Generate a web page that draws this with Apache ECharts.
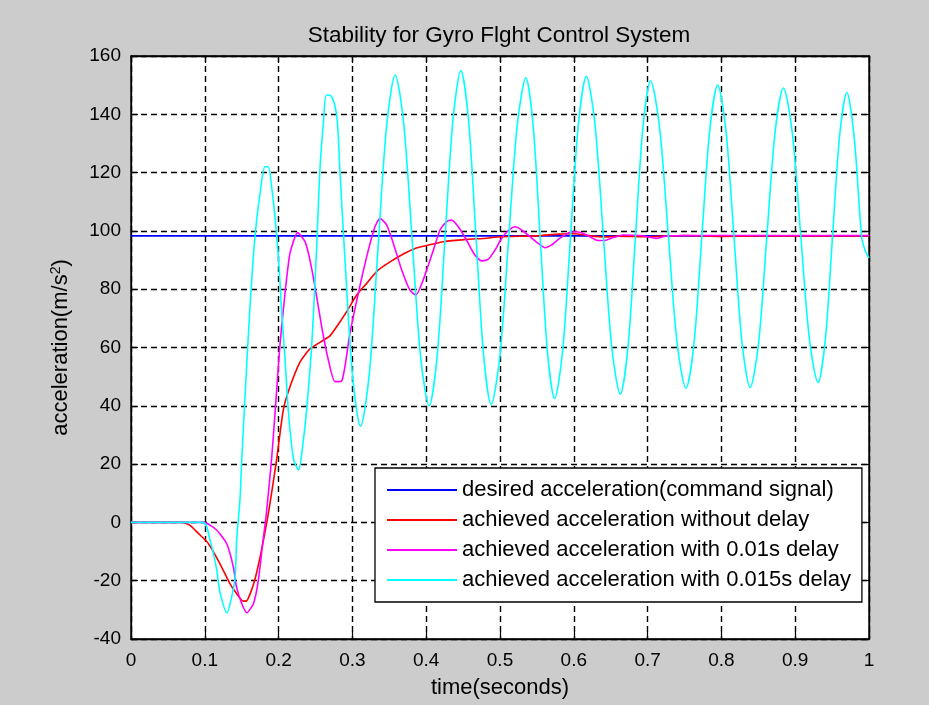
<!DOCTYPE html>
<html>
<head>
<meta charset="utf-8">
<title>Stability for Gyro Flght Control System</title>
<script src="https://cdn.jsdelivr.net/npm/echarts@6/dist/echarts.min.js"></script>
<style>
  html, body { margin: 0; padding: 0; background: #ffffff; }
  #chart { width: 929px; height: 705px; }
</style>
</head>
<body>
<div id="chart"></div>
<script>
// Time axis ticks (seconds) and acceleration ticks (m/s^2)
const xTicks = [0, 0.1, 0.2, 0.3, 0.4, 0.5, 0.6, 0.7, 0.8, 0.9, 1];
const yTicks = [-40, -20, 0, 20, 40, 60, 80, 100, 120, 140, 160];

const seriesNames = [
  'desired acceleration(command signal)',
  'achieved acceleration without delay',
  'achieved acceleration with 0.01s delay',
  'achieved acceleration with 0.015s delay'
];

// Command signal (constant)
const desired = [[0, 98.3], [1, 98.3]];

// Response without delay
const noDelay = [
  [0, 0], [0.069, 0], [0.08, -1], [0.091, -3.7], [0.105, -7.3], [0.1206, -14.2],
  [0.134, -21], [0.143, -24.4], [0.152, -27], [0.156, -27], [0.168, -19.5],
  [0.184, 0], [0.197, 21], [0.2064, 38.6], [0.2154, 46.5], [0.229, 55], [0.2425, 59.5],
  [0.2606, 62.5], [0.2696, 64], [0.281, 68], [0.2922, 72.3], [0.3058, 78],
  [0.3193, 82], [0.3351, 86.6], [0.351, 89.4], [0.369, 92.1], [0.3848, 94],
  [0.4007, 95], [0.4232, 96.3], [0.4548, 97.1], [0.482, 97.5], [0.5, 98],
  [0.55, 98.3], [0.58, 98.9], [0.60, 99.0], [0.62, 98.4], [0.64, 97.9],
  [0.66, 98.2], [0.70, 98.0], [0.75, 98.4], [0.8, 98.1], [0.85, 98.3], [1.0, 98.3]
];

// Response with 0.01 s delay
const delay010 = [
  [0, 0], [0.0985, 0], [0.116, -2.6], [0.130, -7.5], [0.1387, -15.3], [0.143, -22.2],
  [0.150, -27.8], [0.157, -31], [0.166, -27.8], [0.1725, -20], [0.179, -6],
  [0.183, 2], [0.1906, 22], [0.197, 44], [0.202, 61.4], [0.2087, 78.6],
  [0.2154, 92.3], [0.2258, 99.4], [0.2358, 96.3], [0.2425, 90], [0.2493, 80.9],
  [0.2584, 67.1], [0.2674, 55.7], [0.2764, 48.3], [0.2855, 48.5], [0.2967, 64.9],
  [0.31, 80.9], [0.3216, 93.4], [0.3306, 101.4], [0.3374, 104.3], [0.3465, 102],
  [0.3555, 95.7], [0.3668, 86.6], [0.378, 79.7], [0.386, 78], [0.396, 83.2],
  [0.4097, 93.4], [0.4187, 100.3], [0.4278, 103.2], [0.4345, 103.7], [0.4435, 101.4],
  [0.4548, 96.8], [0.466, 91.7], [0.4752, 89.7], [0.4842, 90.3], [0.4932, 93.4],
  [0.5023, 97.5], [0.5113, 100.1], [0.5203, 101.4], [0.5294, 100.3], [0.5407, 98],
  [0.5519, 95.7], [0.561, 94.2], [0.570, 95.2], [0.5813, 97.5], [0.5949, 99.5],
  [0.604, 99.7], [0.6175, 98.6], [0.631, 96.8], [0.642, 96.7], [0.6535, 97.7],
  [0.667, 98.6], [0.69, 98.4], [0.70, 98.0], [0.712, 97.4], [0.722, 98.1],
  [0.75, 98.4], [1.0, 98.4]
];

// Response with 0.015 s delay
const delay015 = [
  [0, 0], [0.097, 0], [0.107, -6], [0.116, -16], [0.1206, -24], [0.130, -31],
  [0.136, -26], [0.141, -19], [0.1432, -6], [0.1477, 8], [0.150, 21], [0.1545, 43],
  [0.161, 73], [0.168, 98], [0.175, 113], [0.1816, 122], [0.186, 122], [0.1906, 115],
  [0.195, 105], [0.200, 90], [0.204, 73], [0.2087, 56], [0.213, 39], [0.220, 22],
  [0.227, 18], [0.232, 25], [0.238, 38.6], [0.245, 61.4], [0.2516, 94.6],
  [0.256, 121], [0.261, 138], [0.265, 146.6], [0.272, 146], [0.279, 139],
  [0.283, 121], [0.2895, 92], [0.3003, 50], [0.311, 33],
  [0.3228, 50.7], [0.3345, 93.3], [0.3463, 135.9], [0.358, 153.5],
  [0.3695, 136.9], [0.381, 96.8], [0.3925, 56.6], [0.404, 40],
  [0.4148, 56.9], [0.4255, 97.5], [0.4363, 138.2], [0.447, 155],
  [0.4573, 138.2], [0.4675, 97.8], [0.4778, 57.3], [0.488, 40.5],
  [0.4998, 56.9], [0.5115, 96.5], [0.5233, 136.1], [0.535, 152.5],
  [0.5448, 136.4], [0.5545, 97.5], [0.5643, 58.6], [0.574, 42.5],
  [0.5848, 58.7], [0.5955, 97.8], [0.6063, 136.8], [0.617, 153],
  [0.6285, 137], [0.64, 98.5], [0.6515, 60], [0.663, 44],
  [0.6733, 59.8], [0.6835, 97.8], [0.6938, 135.8], [0.704, 151.5],
  [0.716, 136], [0.728, 98.8], [0.74, 61.5], [0.752, 46],
  [0.7628, 61.2], [0.7735, 98], [0.7843, 134.8], [0.795, 150],
  [0.806, 134.8], [0.817, 98.2], [0.828, 61.5], [0.839, 46.3],
  [0.8503, 61.3], [0.8615, 97.7], [0.8728, 134], [0.884, 149],
  [0.8958, 134.2], [0.9075, 98.5], [0.9193, 62.8], [0.931, 48],
  [0.9408, 62.6], [0.9505, 97.8], [0.9603, 132.9], [0.970, 147.5],
  [0.98, 132], [0.990, 98], [0.9946, 93.4], [1.0, 90.7]
];

const lineColors = ['#0000ff', '#ff0000', '#ff00ff', '#00ffff'];
const FONT = '"Liberation Sans", Arial, Helvetica, sans-serif';

const chart = echarts.init(document.getElementById('chart'), null, { renderer: 'canvas' });

const tickStyle = { inside: true, length: 7, lineStyle: { color: '#000', width: 1.2 } };

function xAxisBase(pos, showLabels) {
  return {
    type: 'value',
    position: pos,
    min: xTicks[0],
    max: xTicks[xTicks.length - 1],
    interval: 0.1,
    axisLine: { show: true, onZero: false, lineStyle: { color: '#000', width: 1.3 } },
    axisTick: tickStyle,
    axisLabel: {
      show: showLabels,
      margin: 12,
      color: '#000',
      fontFamily: FONT,
      fontSize: 19,
      formatter: v => String(Math.round(v * 10) / 10)
    },
    splitLine: {
      show: showLabels,
      lineStyle: { color: '#000', width: 1.4, type: [6, 4] }
    }
  };
}

function yAxisBase(pos, showLabels) {
  return {
    type: 'value',
    position: pos,
    min: yTicks[0],
    max: yTicks[yTicks.length - 1],
    interval: 20,
    axisLine: { show: true, onZero: false, lineStyle: { color: '#000', width: 1.3 } },
    axisTick: tickStyle,
    axisLabel: {
      show: showLabels,
      margin: 10,
      color: '#000',
      fontFamily: FONT,
      fontSize: 19
    },
    splitLine: {
      show: showLabels,
      lineStyle: { color: '#000', width: 1.4, type: [6, 4] }
    }
  };
}

const xBottom = Object.assign(xAxisBase('bottom', true), {
  name: 'time(seconds)',
  nameLocation: 'middle',
  nameGap: 38,
  nameTextStyle: { color: '#000', fontFamily: FONT, fontSize: 22 }
});
const yLeft = Object.assign(yAxisBase('left', true), {
  name: 'acceleration(m/s{sup|2})',
  nameLocation: 'middle',
  nameRotate: 90,
  nameGap: 58,
  nameTextStyle: {
    color: '#000', fontFamily: FONT, fontSize: 22,
    rich: { sup: { fontSize: 14, fontFamily: FONT, color: '#000', verticalAlign: 'top', padding: [0, 0, 10, 0] } }
  }
});

function lineSeries(i, data, z) {
  return {
    name: seriesNames[i],
    type: 'line',
    data: data,
    xAxisIndex: 0,
    yAxisIndex: 0,
    showSymbol: false,
    symbol: 'none',
    animation: false,
    color: lineColors[i],
    lineStyle: { color: lineColors[i], width: 1.6 },
    z: z
  };
}

const option = {
  backgroundColor: '#cccccc',
  animation: false,
  title: {
    text: 'Stability for Gyro Flght Control System',
    left: 494,
    top: 19,
    textAlign: 'center',
    textStyle: { color: '#000', fontFamily: FONT, fontSize: 22.5, fontWeight: 'normal' }
  },
  grid: {
    left: 131, top: 56, width: 738, height: 583,
    show: true, backgroundColor: '#ffffff', borderColor: '#000', borderWidth: 1.3
  },
  xAxis: [xBottom, xAxisBase('top', false)],
  yAxis: [yLeft, yAxisBase('right', false)],
  legend: {
    orient: 'vertical',
    left: 375,
    top: 468,
    padding: [11, 11, 11, 12],
    itemWidth: 70,
    itemHeight: 2,
    itemGap: 8,
    icon: 'rect',
    backgroundColor: '#ffffff',
    borderColor: '#000',
    borderWidth: 1.3,
    borderRadius: 0,
    textStyle: { color: '#000', fontFamily: FONT, fontSize: 22, lineHeight: 22 },
    data: seriesNames
  },
  series: [
    lineSeries(0, desired, 2),
    Object.assign(lineSeries(1, noDelay, 3), { smooth: 0.2 }),
    Object.assign(lineSeries(2, delay010, 4), { smooth: 0.2 }),
    Object.assign(lineSeries(3, delay015, 5), { smooth: 0.3 })
  ]
};

chart.setOption(option);
</script>
</body>
</html>
